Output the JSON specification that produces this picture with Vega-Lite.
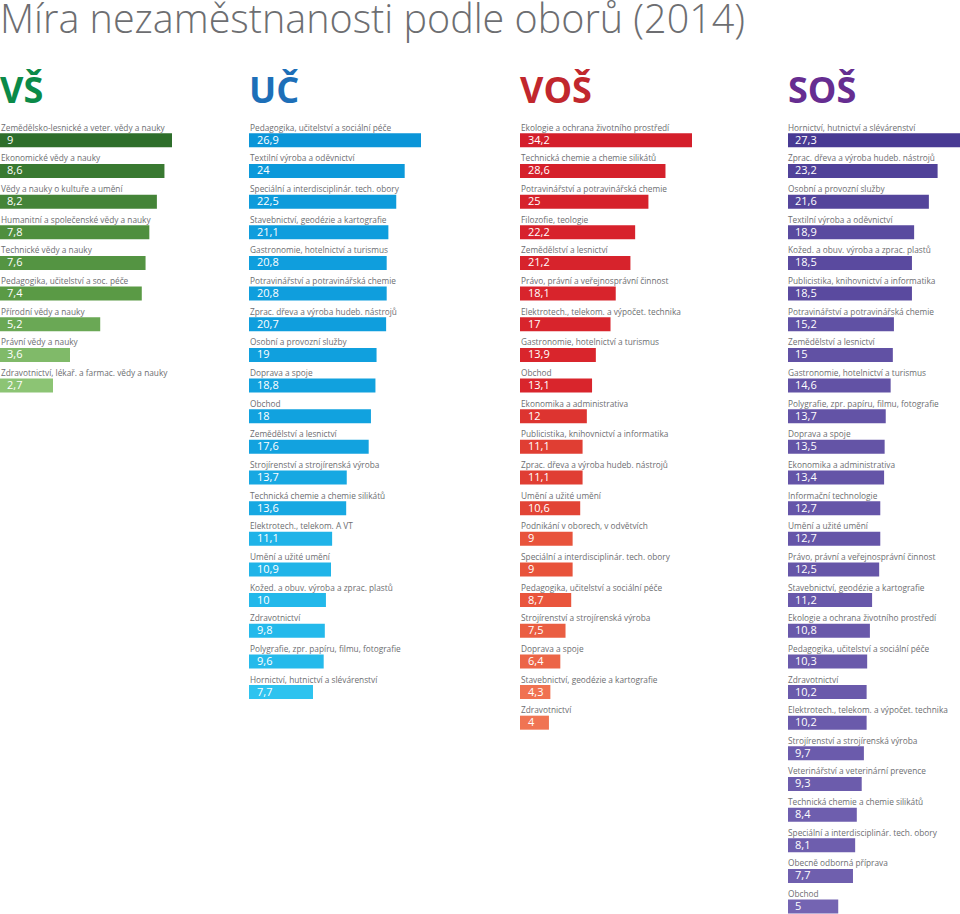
{
  "$schema": "https://vega.github.io/schema/vega-lite/v6.json",
  "padding": 0,
  "background": "white",
  "spacing": 0,
  "bounds": "flush",
  "title": {"text": "Míra nezaměstnanosti podle oborů (2014)", "anchor": "start", "frame": "group", "fontSize": 39.5, "font": "Open Sans", "fontWeight": 300, "color": "#6d6e71", "offset": 33},
  "config": {
    "view": {"stroke": null},
    "locale": {"number": {"decimal": ",", "thousands": " ", "grouping": [3], "currency": ["", " Kč"]}}
  },
  "resolve": {"scale": {"color": "independent", "x": "independent", "y": "independent"}},
  "data": {"values": [
    {"typ": "VŠ", "obor": "Zemědělsko-lesnické a veter. vědy a nauky", "hodnota": 9},
    {"typ": "VŠ", "obor": "Ekonomické vědy a nauky", "hodnota": 8.6},
    {"typ": "VŠ", "obor": "Vědy a nauky o kultuře a umění", "hodnota": 8.2},
    {"typ": "VŠ", "obor": "Humanitní a společenské vědy a nauky", "hodnota": 7.8},
    {"typ": "VŠ", "obor": "Technické vědy a nauky", "hodnota": 7.6},
    {"typ": "VŠ", "obor": "Pedagogika, učitelství a soc. péče", "hodnota": 7.4},
    {"typ": "VŠ", "obor": "Přírodní vědy a nauky", "hodnota": 5.2},
    {"typ": "VŠ", "obor": "Právní vědy a nauky", "hodnota": 3.6},
    {"typ": "VŠ", "obor": "Zdravotnictví, lékař. a farmac. vědy a nauky", "hodnota": 2.7},
    {"typ": "UČ", "obor": "Pedagogika, učitelství a sociální péče", "hodnota": 26.9},
    {"typ": "UČ", "obor": "Textilní výroba a oděvnictví", "hodnota": 24},
    {"typ": "UČ", "obor": "Speciální a interdisciplinár. tech. obory", "hodnota": 22.5},
    {"typ": "UČ", "obor": "Stavebnictví, geodézie a kartografie", "hodnota": 21.1},
    {"typ": "UČ", "obor": "Gastronomie, hotelnictví a turismus", "hodnota": 20.8},
    {"typ": "UČ", "obor": "Potravinářství a potravinářská chemie", "hodnota": 20.8},
    {"typ": "UČ", "obor": "Zprac. dřeva a výroba hudeb. nástrojů", "hodnota": 20.7},
    {"typ": "UČ", "obor": "Osobní a provozní služby", "hodnota": 19},
    {"typ": "UČ", "obor": "Doprava a spoje", "hodnota": 18.8},
    {"typ": "UČ", "obor": "Obchod", "hodnota": 18},
    {"typ": "UČ", "obor": "Zemědělství a lesnictví", "hodnota": 17.6},
    {"typ": "UČ", "obor": "Strojírenství a strojírenská výroba", "hodnota": 13.7},
    {"typ": "UČ", "obor": "Technická chemie a chemie silikátů", "hodnota": 13.6},
    {"typ": "UČ", "obor": "Elektrotech., telekom. A VT", "hodnota": 11.1},
    {"typ": "UČ", "obor": "Umění a užité umění", "hodnota": 10.9},
    {"typ": "UČ", "obor": "Kožed. a obuv. výroba a zprac. plastů", "hodnota": 10},
    {"typ": "UČ", "obor": "Zdravotnictví", "hodnota": 9.8},
    {"typ": "UČ", "obor": "Polygrafie, zpr. papíru, filmu, fotografie", "hodnota": 9.6},
    {"typ": "UČ", "obor": "Hornictví, hutnictví a slévárenství", "hodnota": 7.7},
    {"typ": "VOŠ", "obor": "Ekologie a ochrana životního prostředí", "hodnota": 34.2},
    {"typ": "VOŠ", "obor": "Technická chemie a chemie silikátů", "hodnota": 28.6},
    {"typ": "VOŠ", "obor": "Potravinářství a potravinářská chemie", "hodnota": 25},
    {"typ": "VOŠ", "obor": "Filozofie, teologie", "hodnota": 22.2},
    {"typ": "VOŠ", "obor": "Zemědělství a lesnictví", "hodnota": 21.2},
    {"typ": "VOŠ", "obor": "Právo, právní a veřejnosprávní činnost", "hodnota": 18.1},
    {"typ": "VOŠ", "obor": "Elektrotech., telekom. a výpočet. technika", "hodnota": 17},
    {"typ": "VOŠ", "obor": "Gastronomie, hotelnictví a turismus", "hodnota": 13.9},
    {"typ": "VOŠ", "obor": "Obchod", "hodnota": 13.1},
    {"typ": "VOŠ", "obor": "Ekonomika a administrativa", "hodnota": 12},
    {"typ": "VOŠ", "obor": "Publicistika, knihovnictví a informatika", "hodnota": 11.1},
    {"typ": "VOŠ", "obor": "Zprac. dřeva a výroba hudeb. nástrojů", "hodnota": 11.1},
    {"typ": "VOŠ", "obor": "Umění a užité umění", "hodnota": 10.6},
    {"typ": "VOŠ", "obor": "Podnikání v oborech, v odvětvích", "hodnota": 9},
    {"typ": "VOŠ", "obor": "Speciální a interdisciplinár. tech. obory", "hodnota": 9},
    {"typ": "VOŠ", "obor": "Pedagogika, učitelství a sociální péče", "hodnota": 8.7},
    {"typ": "VOŠ", "obor": "Strojírenství a strojírenská výroba", "hodnota": 7.5},
    {"typ": "VOŠ", "obor": "Doprava a spoje", "hodnota": 6.4},
    {"typ": "VOŠ", "obor": "Stavebnictví, geodézie a kartografie", "hodnota": 4.3},
    {"typ": "VOŠ", "obor": "Zdravotnictví", "hodnota": 4},
    {"typ": "SOŠ", "obor": "Hornictví, hutnictví a slévárenství", "hodnota": 27.3},
    {"typ": "SOŠ", "obor": "Zprac. dřeva a výroba hudeb. nástrojů", "hodnota": 23.2},
    {"typ": "SOŠ", "obor": "Osobní a provozní služby", "hodnota": 21.6},
    {"typ": "SOŠ", "obor": "Textilní výroba a oděvnictví", "hodnota": 18.9},
    {"typ": "SOŠ", "obor": "Kožed. a obuv. výroba a zprac. plastů", "hodnota": 18.5},
    {"typ": "SOŠ", "obor": "Publicistika, knihovnictví a informatika", "hodnota": 18.5},
    {"typ": "SOŠ", "obor": "Potravinářství a potravinářská chemie", "hodnota": 15.2},
    {"typ": "SOŠ", "obor": "Zemědělství a lesnictví", "hodnota": 15},
    {"typ": "SOŠ", "obor": "Gastronomie, hotelnictví a turismus", "hodnota": 14.6},
    {"typ": "SOŠ", "obor": "Polygrafie, zpr. papíru, filmu, fotografie", "hodnota": 13.7},
    {"typ": "SOŠ", "obor": "Doprava a spoje", "hodnota": 13.5},
    {"typ": "SOŠ", "obor": "Ekonomika a administrativa", "hodnota": 13.4},
    {"typ": "SOŠ", "obor": "Informační technologie", "hodnota": 12.7},
    {"typ": "SOŠ", "obor": "Umění a užité umění", "hodnota": 12.7},
    {"typ": "SOŠ", "obor": "Právo, právní a veřejnosprávní činnost", "hodnota": 12.5},
    {"typ": "SOŠ", "obor": "Stavebnictví, geodézie a kartografie", "hodnota": 11.2},
    {"typ": "SOŠ", "obor": "Ekologie a ochrana životního prostředí", "hodnota": 10.8},
    {"typ": "SOŠ", "obor": "Pedagogika, učitelství a sociální péče", "hodnota": 10.3},
    {"typ": "SOŠ", "obor": "Zdravotnictví", "hodnota": 10.2},
    {"typ": "SOŠ", "obor": "Elektrotech., telekom. a výpočet. technika", "hodnota": 10.2},
    {"typ": "SOŠ", "obor": "Strojírenství a strojírenská výroba", "hodnota": 9.7},
    {"typ": "SOŠ", "obor": "Veterinářství a veterinární prevence", "hodnota": 9.3},
    {"typ": "SOŠ", "obor": "Technická chemie a chemie silikátů", "hodnota": 8.4},
    {"typ": "SOŠ", "obor": "Speciální a interdisciplinár. tech. obory", "hodnota": 8.1},
    {"typ": "SOŠ", "obor": "Obecně odborná příprava", "hodnota": 7.7},
    {"typ": "SOŠ", "obor": "Obchod", "hodnota": 5}
  ]},
  "hconcat": [
    {
      "width": 249, "height": {"step": 30.65},
      "title": {"text": "VŠ", "anchor": "start", "fontSize": 36, "fontWeight": "bold", "font": "Open Sans", "color": "#0b8a48", "offset": -19, "baseline": "alphabetic"},
      "transform": [{"filter": "datum.typ === 'VŠ'"}],
      "encoding": {"y": {"field": "obor", "type": "nominal", "sort": null, "axis": null, "scale": {"paddingInner": 0, "paddingOuter": 0}}},
      "layer": [
        {"mark": {"type": "bar", "height": 14, "yOffset": 5, "xOffset": 2},
         "encoding": {"x": {"field": "hodnota", "type": "quantitative", "axis": null, "scale": {"domain": [0, 9], "range": [0, 170]}}, "x2": {"datum": 0},
           "color": {"field": "hodnota", "type": "quantitative", "legend": null, "scale": {"domain": [2.7, 5.2, 7.4, 9], "range": ["#8cc474", "#6aa855", "#5a9a45", "#2e6e2b"]}}}},
        {"mark": {"type": "text", "align": "left", "baseline": "alphabetic", "yOffset": -4.5, "fontSize": 8.3, "font": "Open Sans", "color": "#6d6e71"},
         "encoding": {"x": {"value": 1}, "text": {"field": "obor"}}},
        {"mark": {"type": "text", "align": "left", "baseline": "middle", "yOffset": 5.5, "fontSize": 11, "font": "Open Sans", "color": "white"},
         "encoding": {"x": {"value": 7}, "text": {"field": "hodnota", "type": "quantitative", "format": ".1~f"}}}
      ]
    },
    {
      "width": 271, "height": {"step": 30.65},
      "title": {"text": "UČ", "anchor": "start", "fontSize": 36, "fontWeight": "bold", "font": "Open Sans", "color": "#1d6fb8", "offset": -19, "baseline": "alphabetic"},
      "transform": [{"filter": "datum.typ === 'UČ'"}],
      "encoding": {"y": {"field": "obor", "type": "nominal", "sort": null, "axis": null, "scale": {"paddingInner": 0, "paddingOuter": 0}}},
      "layer": [
        {"mark": {"type": "bar", "height": 14, "yOffset": 5, "xOffset": 1},
         "encoding": {"x": {"field": "hodnota", "type": "quantitative", "axis": null, "scale": {"domain": [-3.5, 26.9], "range": [0, 171]}}, "x2": {"datum": -3.5},
           "color": {"field": "hodnota", "type": "quantitative", "legend": null, "scale": {"domain": [7.7, 13.6, 26.9], "range": ["#2ec3ef", "#17a8e2", "#0b95d8"]}}}},
        {"mark": {"type": "text", "align": "left", "baseline": "alphabetic", "yOffset": -4.5, "fontSize": 8.3, "font": "Open Sans", "color": "#6d6e71"},
         "encoding": {"x": {"value": 1}, "text": {"field": "obor"}}},
        {"mark": {"type": "text", "align": "left", "baseline": "middle", "yOffset": 5.5, "fontSize": 11, "font": "Open Sans", "color": "white"},
         "encoding": {"x": {"value": 8}, "text": {"field": "hodnota", "type": "quantitative", "format": ".1~f"}}}
      ]
    },
    {
      "width": 268, "height": {"step": 30.65},
      "title": {"text": "VOŠ", "anchor": "start", "fontSize": 36, "fontWeight": "bold", "font": "Open Sans", "color": "#c1272d", "offset": -19, "baseline": "alphabetic"},
      "transform": [{"filter": "datum.typ === 'VOŠ'"}],
      "encoding": {"y": {"field": "obor", "type": "nominal", "sort": null, "axis": null, "scale": {"paddingInner": 0, "paddingOuter": 0}}},
      "layer": [
        {"mark": {"type": "bar", "height": 14, "yOffset": 5, "xOffset": 1},
         "encoding": {"x": {"field": "hodnota", "type": "quantitative", "axis": null, "scale": {"domain": [-1.9, 34.2], "range": [0, 171]}}, "x2": {"datum": -1.9},
           "color": {"field": "hodnota", "type": "quantitative", "legend": null, "scale": {"domain": [4, 9, 13.1, 34.2], "range": ["#f07453", "#e8533b", "#d9252c", "#d41f2b"]}}}},
        {"mark": {"type": "text", "align": "left", "baseline": "alphabetic", "yOffset": -4.5, "fontSize": 8.3, "font": "Open Sans", "color": "#6d6e71"},
         "encoding": {"x": {"value": 1}, "text": {"field": "obor"}}},
        {"mark": {"type": "text", "align": "left", "baseline": "middle", "yOffset": 5.5, "fontSize": 11, "font": "Open Sans", "color": "white"},
         "encoding": {"x": {"value": 8}, "text": {"field": "hodnota", "type": "quantitative", "format": ".1~f"}}}
      ]
    },
    {
      "width": 172, "height": {"step": 30.65},
      "title": {"text": "SOŠ", "anchor": "start", "fontSize": 36, "fontWeight": "bold", "font": "Open Sans", "color": "#662d91", "offset": -19, "baseline": "alphabetic"},
      "transform": [{"filter": "datum.typ === 'SOŠ'"}],
      "encoding": {"y": {"field": "obor", "type": "nominal", "sort": null, "axis": null, "scale": {"paddingInner": 0, "paddingOuter": 0}}},
      "layer": [
        {"mark": {"type": "bar", "height": 14, "yOffset": 5},
         "encoding": {"x": {"field": "hodnota", "type": "quantitative", "axis": null, "scale": {"domain": [-4.2, 27.3], "range": [0, 172]}}, "x2": {"datum": -4.2},
           "color": {"field": "hodnota", "type": "quantitative", "legend": null, "scale": {"domain": [5, 10.3, 27.3], "range": ["#7464b2", "#6a5aab", "#483a93"]}}}},
        {"mark": {"type": "text", "align": "left", "baseline": "alphabetic", "yOffset": -4.5, "fontSize": 8.3, "font": "Open Sans", "color": "#6d6e71"},
         "encoding": {"x": {"value": 0}, "text": {"field": "obor"}}},
        {"mark": {"type": "text", "align": "left", "baseline": "middle", "yOffset": 5.5, "fontSize": 11, "font": "Open Sans", "color": "white"},
         "encoding": {"x": {"value": 7}, "text": {"field": "hodnota", "type": "quantitative", "format": ".1~f"}}}
      ]
    }
  ]
}
